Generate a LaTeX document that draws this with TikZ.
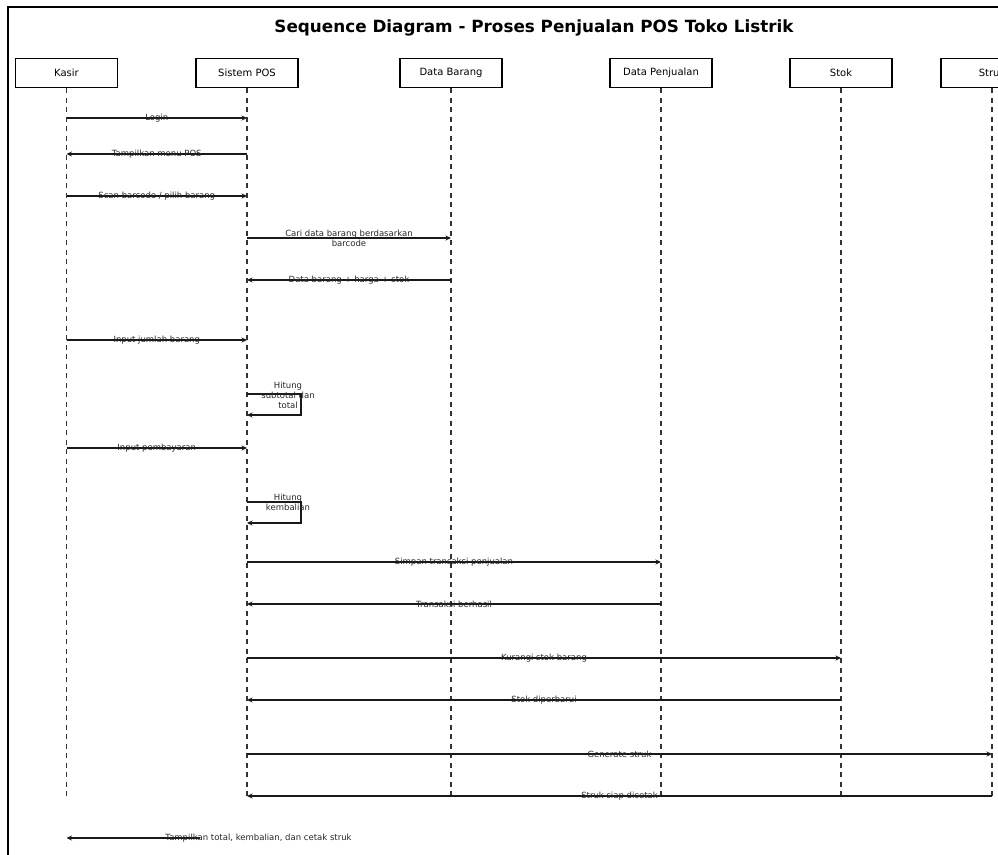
\documentclass[tikz,border=0pt]{standalone}
\usepackage{fontspec}
\setmainfont{DejaVu Sans}
\usetikzlibrary{arrows.meta}

\tikzset{
  actor/.style={draw=black, line width=1.5pt, fill=white, minimum width=102pt,
    minimum height=29pt, inner sep=0pt, font=\fontsize{10}{12}\selectfont},
  lifeline/.style={draw=black!80, line width=1.2pt, dash pattern=on 5pt off 4.5pt},
  msg/.style={draw=black!90, line width=1.1pt, -{Stealth[length=5.5pt,width=5pt]}},
  lbl/.style={font=\fontsize{8.5}{10}\selectfont, text=black!85, inner sep=0pt, align=center},
}

\begin{document}
\begin{tikzpicture}[x=1pt,y=-1pt]
  \useasboundingbox (0,0) rectangle (998,854);
  \clip (0,0) rectangle (998,854);

  % outer frame (runs off the right and bottom edges)
  \draw[line width=1.8pt] (8,870) -- (8,7) -- (1010,7);

  % title
  \node[font=\fontsize{16.8}{20}\selectfont\bfseries] (title) at (534,28)
    {Sequence Diagram - Proses Penjualan POS Toko Listrik};

  % participants
  \node[actor] (kasir) at (66.5,73) {Kasir};
  \node[actor] (pos)   at (247,73)  {Sistem POS};
  \node[actor] (brg)   at (451,73)  {Data Barang};
  \node[actor] (jual)  at (661,73)  {Data Penjualan};
  \node[actor] (stok)  at (841,73)  {Stok};
  \node[actor] (struk) at (992,73)  {Struk};

  % lifelines
  \coordinate (bottom) at (0,798);
  \foreach \p in {kasir,pos,brg,jual,stok,struk}
    \draw[lifeline] (\p.south) -- (\p |- bottom);

  % message rows
  \coordinate (r1)  at (0,118);
  \coordinate (r2)  at (0,154);
  \coordinate (r3)  at (0,196);
  \coordinate (r4)  at (0,238);
  \coordinate (r5)  at (0,280);
  \coordinate (r6)  at (0,340);
  \coordinate (r7)  at (0,394);
  \coordinate (r7b) at (0,415);
  \coordinate (r8)  at (0,448);
  \coordinate (r9)  at (0,502);
  \coordinate (r9b) at (0,523);
  \coordinate (r10) at (0,562);
  \coordinate (r11) at (0,604);
  \coordinate (r12) at (0,658);
  \coordinate (r13) at (0,700);
  \coordinate (r14) at (0,754);
  \coordinate (r15) at (0,796);
  \coordinate (r16) at (200,838);

  \draw[msg] (kasir |- r1) -- node[lbl] (t1) {Login} (pos |- r1);
  \draw[msg] (pos |- r2) -- node[lbl] (t2) {Tampilkan menu POS} (kasir |- r2);
  \draw[msg] (kasir |- r3) -- node[lbl] (t3) {Scan barcode / pilih barang} (pos |- r3);
  \draw[msg] (pos |- r4) -- node[lbl] (t4) {Cari data barang berdasarkan\\barcode} (brg |- r4);
  \draw[msg] (brg |- r5) -- node[lbl] (t5) {Data barang + harga + stok} (pos |- r5);
  \draw[msg] (kasir |- r6) -- node[lbl] (t6) {Input jumlah barang} (pos |- r6);

  % self call: subtotal
  \draw[msg] (pos |- r7) -- ++(54,0) -- ++(0,21) -- (pos |- r7b);
  \node[lbl] (t7) at (288,395) {Hitung\\subtotal dan\\total};

  \draw[msg] (kasir |- r8) -- node[lbl] (t8) {Input pembayaran} (pos |- r8);

  % self call: change
  \draw[msg] (pos |- r9) -- ++(54,0) -- ++(0,21) -- (pos |- r9b);
  \node[lbl] (t9) at (288,502.5) {Hitung\\kembalian};

  \draw[msg] (pos |- r10) -- node[lbl] (t10) {Simpan transaksi penjualan} (jual |- r10);
  \draw[msg] (jual |- r11) -- node[lbl] (t11) {Transaksi berhasil} (pos |- r11);
  \draw[msg] (pos |- r12) -- node[lbl] (t12) {Kurangi stok barang} (stok |- r12);
  \draw[msg] (stok |- r13) -- node[lbl] (t13) {Stok diperbarui} (pos |- r13);
  \draw[msg] (pos |- r14) -- node[lbl] (t14) {Generate struk} (struk |- r14);
  \draw[msg] (struk |- r15) -- node[lbl] (t15) {Struk siap dicetak} (pos |- r15);

  % closing message back to the cashier
  \draw[msg] (r16) -- (kasir |- r16);
  \node[lbl] (t16) at (258.5,838) {Tampilkan total, kembalian, dan cetak struk};
\end{tikzpicture}
\end{document}
